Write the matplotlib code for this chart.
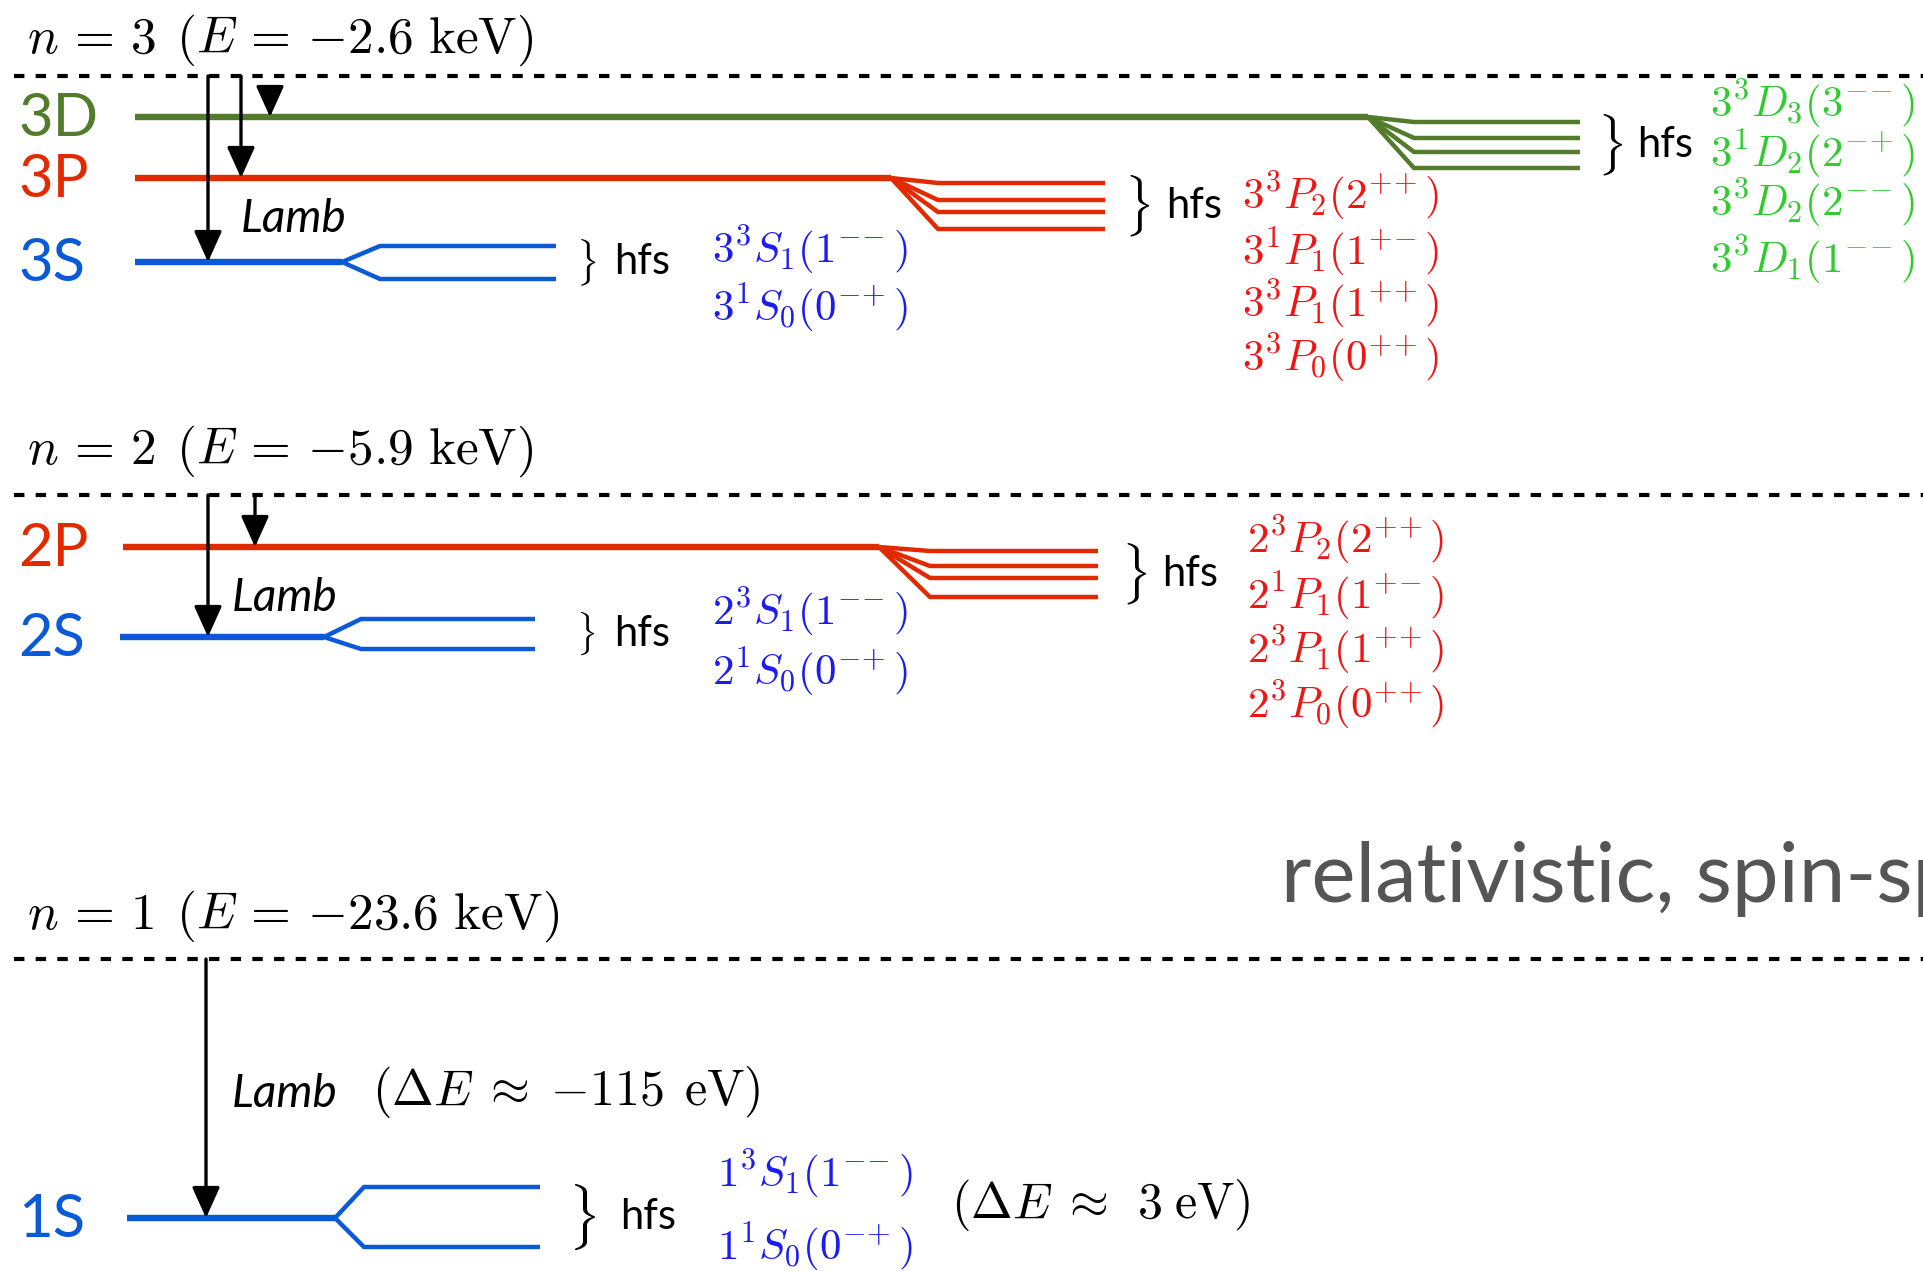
import matplotlib.pyplot as plt

plt.rcParams['mathtext.fontset'] = 'cm'
plt.rcParams['font.family'] = ['Lato', 'DejaVu Sans']

# ---- data (pixel layout of the level diagram) ----
shell_n = [3, 2, 1]
shell_E = ['2.6', '5.9', '23.6']
shell_y = [76, 495, 959]
shell_title_y = [40, 451, 916]

level_names = ['3D', '3P', '3S', '2P', '2S', '1S']
level_y = [117, 178, 262, 547, 637, 1218]
level_x0 = [135, 135, 135, 123, 120, 127]
level_xsplit = [1368, 891, 342, 879, 324, 335]
level_xcorner = [1414, 938, 380, 930, 361, 364]
level_xend = [1580, 1105, 556, 1098, 535, 540]
branch_y = [[122, 138, 152, 168],
            [183, 200, 212, 229],
            [246, 279],
            [551, 566, 578, 597],
            [619, 649],
            [1187, 1247]]
brace_x = [1597, 1124, 576, 1121, 576, 568]
hfs_x = [1637, 1166, 614, 1162, 614, 620]

states = [
    [r'$3^3D_3(3^{-\!-})$', r'$3^1D_2(2^{-\!+})$', r'$3^3D_2(2^{-\!-})$', r'$3^3D_1(1^{-\!-})$'],
    [r'$3^3P_2(2^{+\!+})$', r'$3^1P_1(1^{+\!-})$', r'$3^3P_1(1^{+\!+})$', r'$3^3P_0(0^{+\!+})$'],
    [r'$3^3S_1(1^{-\!-})$', r'$3^1S_0(0^{-\!+})$'],
    [r'$2^3P_2(2^{+\!+})$', r'$2^1P_1(1^{+\!-})$', r'$2^3P_1(1^{+\!+})$', r'$2^3P_0(0^{+\!+})$'],
    [r'$2^3S_1(1^{-\!-})$', r'$2^1S_0(0^{-\!+})$'],
    [r'$1^3S_1(1^{-\!-})$', r'$1^1S_0(0^{-\!+})$'],
]
state_x = [1813, 1341, 810, 1346, 810, 815]
state_y = [[104, 154, 203, 260],
           [196, 252, 304, 358],
           [250, 308],
           [540, 596, 650, 705],
           [612, 672],
           [1174, 1247]]

# arrows: x, from y, to y
arrow_x = [208, 241, 270, 208, 255, 206]
arrow_y0 = [76, 76, 87, 495, 495, 959]
arrow_y1 = [262, 178, 117, 637, 547, 1218]

level_col = {'D': '#527c2c', 'P': '#e22a00', 'S': '#0a5ad8'}
state_col = {'D': '#2ecc2e', 'P': '#ee1515', 'S': '#1c1cf0'}

W, H = 1924, 1271
fig = plt.figure(figsize=(W / 100, H / 100), dpi=100)
ax = fig.add_axes([0, 0, 1, 1])
ax.set_xlim(0, W)
ax.set_ylim(H, 0)
ax.axis('off')

# shells
for n, E, y, ty in zip(shell_n, shell_E, shell_y, shell_title_y):
    ax.plot([14, W], [y, y], color='black', lw=3.0, dashes=(2.5, 2.7),
            solid_capstyle='butt', dash_capstyle='butt')
    ax.text(27, ty, r'$n\,=\,%d\;\,(E\,=\,{-}%s\ \mathrm{keV})$' % (n, E),
            fontsize=37, va='center', ha='left')

# levels
for i, name in enumerate(level_names):
    c = level_col[name[1]]
    y = level_y[i]
    ax.plot([level_x0[i], level_xsplit[i]], [y, y], color=c, lw=4.6,
            solid_capstyle='butt')
    for by in branch_y[i]:
        ax.plot([level_xsplit[i], level_xcorner[i], level_xend[i]], [y, by, by],
                color=c, lw=3.2, solid_capstyle='butt', solid_joinstyle='miter')
    ax.text(18, y + 2, name, color=c, fontsize=43, va='center', ha='left')

    # brace + hfs
    b0, b1 = branch_y[i][0], branch_y[i][-1]
    bh = min((b1 - b0) + 8, 58)
    ax.text(brace_x[i], (b0 + b1) / 2, r'$\}$', fontsize=bh * 0.72 * 0.95,
            va='center', ha='left')
    ax.text(hfs_x[i], (b0 + b1) / 2, 'hfs', fontsize=30, va='center', ha='left')

    sc = state_col[name[1]]
    for s, sy in zip(states[i], state_y[i]):
        ax.text(state_x[i], sy, s, color=sc, fontsize=31, va='center', ha='center')

# arrows
for x, y0, y1 in zip(arrow_x, arrow_y0, arrow_y1):
    ax.annotate('', xy=(x, y1), xytext=(x, y0),
                arrowprops=dict(arrowstyle='-|>,head_length=1.0,head_width=0.45',
                                mutation_scale=19, color='black', lw=2.4,
                                shrinkA=0, shrinkB=0))

ax.text(241, 219, 'Lamb', fontsize=33, style='italic', va='center', ha='left')
ax.text(232, 598, 'Lamb', fontsize=33, style='italic', va='center', ha='left')
ax.text(232, 1094, 'Lamb', fontsize=33, style='italic', va='center', ha='left')
ax.text(372, 1092, r'$(\Delta E\;\approx\;{-}115\;\,\mathrm{eV})$', fontsize=36,
        va='center', ha='left')
ax.text(951, 1205, r'$(\Delta E\;\approx\;\,3\;\mathrm{eV})$', fontsize=36,
        va='center', ha='left')

ax.text(1281, 902, 'relativistic, spin-spin, spin-orbit', fontsize=60,
        color='#555555', va='baseline', ha='left')

fig.savefig('out.png', dpi=100)
